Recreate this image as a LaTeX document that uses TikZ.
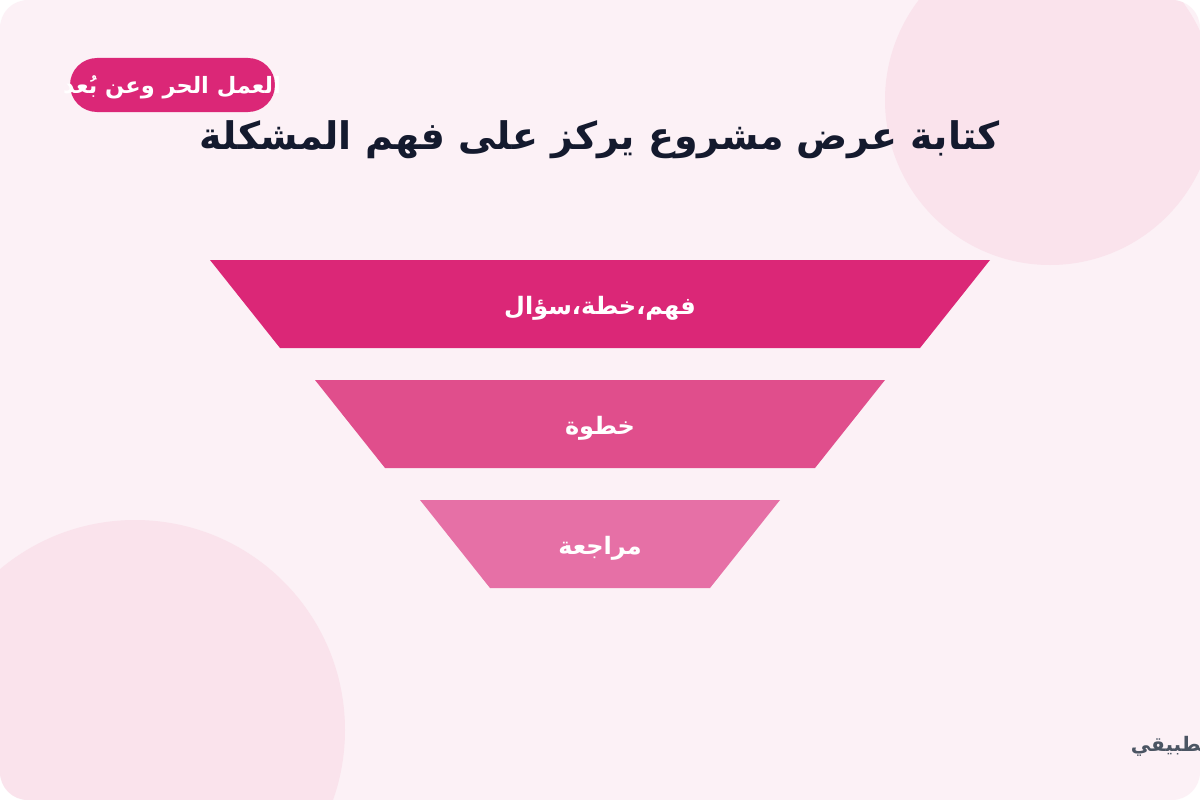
\documentclass[tikz,border=0pt]{standalone}
\usepackage{fontspec}
\TeXXeTstate=1
\newfontfamily\arabicfont[Script=Arabic]{DejaVu Sans}
\definecolor{bgc}{HTML}{FCF1F6}
\definecolor{circc}{HTML}{FAE3EC}
\definecolor{pinkA}{HTML}{DB2777}
\definecolor{pinkB}{HTML}{E04E8C}
\definecolor{pinkC}{HTML}{E670A6}
\definecolor{titlec}{HTML}{141A2E}
\definecolor{greyc}{HTML}{4B5563}
\tikzset{
  flabel/.style={text=white, font=\arabicfont\bfseries\fontsize{24}{28}\selectfont, inner sep=0pt},
}
\begin{document}
\begin{tikzpicture}[x=1pt,y=-1pt]
\useasboundingbox (0,0) rectangle (1200,800);
\fill[white] (0,0) rectangle (1200,800);
\begin{scope}
\clip[rounded corners=28pt] (0,0) rectangle (1200,800);
\fill[bgc] (0,0) rectangle (1200,800);
\fill[circc] (1050,100) circle (165);
\fill[circc] (135,730) circle (210);
\node[anchor=east, text=greyc, font=\arabicfont\bfseries\fontsize{20}{24}\selectfont, inner sep=0pt] (foot) at (1209,746) {\beginR تطبيقي\endR};
\end{scope}
% badge
\fill[pinkA, rounded corners=27pt] (70,58) rectangle (275,112);
\node[text=white, font=\arabicfont\bfseries\fontsize{22.5}{26}\selectfont, inner sep=0pt] (badge) at (172,87) {\beginR العمل الحر وعن بُعد\endR};
% title
\node[text=titlec, font=\arabicfont\bfseries\fontsize{38}{44}\selectfont, inner sep=0pt] (title) at (600,140) {\beginR كتابة عرض مشروع يركز على فهم المشكلة\endR};
% funnel
\fill[pinkA] (210,260) -- (990,260) -- (920,348) -- (280,348) -- cycle;
\fill[pinkB] (315,380) -- (885,380) -- (815,468) -- (385,468) -- cycle;
\fill[pinkC] (420,500) -- (780,500) -- (710,588) -- (490,588) -- cycle;
\node[flabel] (s1) at (600,308) {\beginR فهم،خطة،سؤال\endR};
\node[flabel] (s2) at (600,428) {\beginR خطوة\endR};
\node[flabel] (s3) at (600,548) {\beginR مراجعة\endR};
\end{tikzpicture}
\end{document}
